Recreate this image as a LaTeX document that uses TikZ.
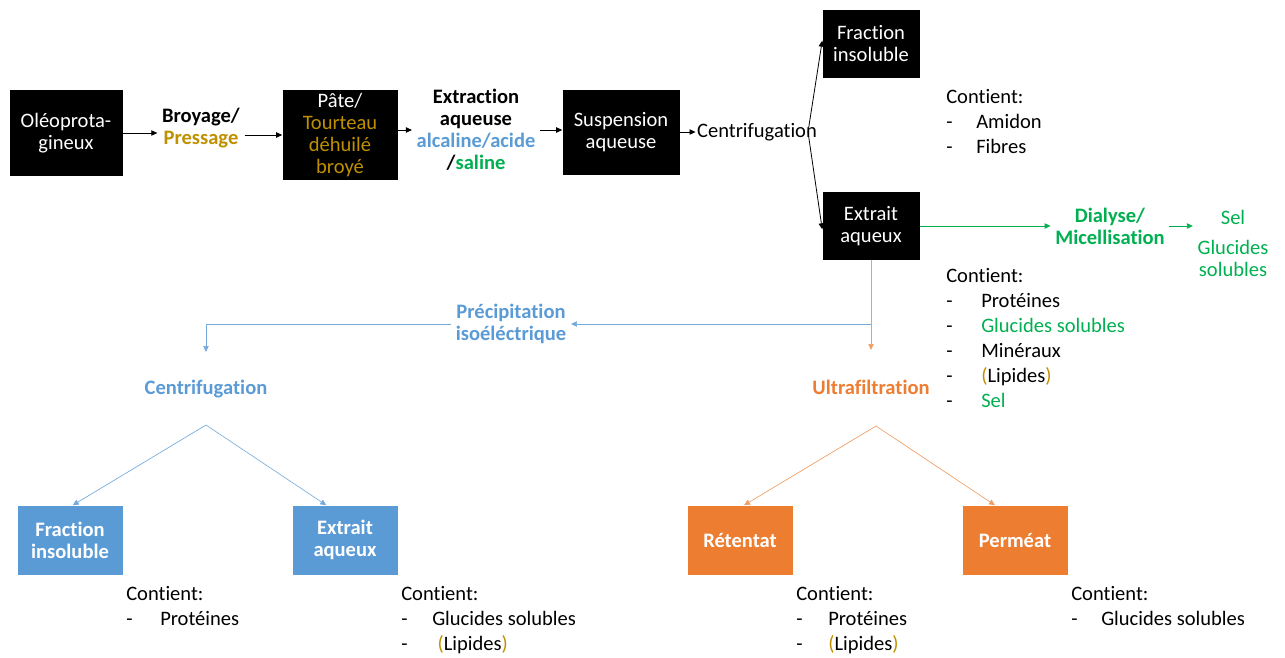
\documentclass[tikz,border=0pt]{standalone}
\usepackage{fontspec}
\setmainfont{Carlito}[Ligatures=NoCommon]
\usetikzlibrary{arrows.meta}
\definecolor{gold}{HTML}{BF9000}
\definecolor{bleu}{HTML}{5B9BD5}
\definecolor{vert}{HTML}{00B050}
\definecolor{orangeuf}{HTML}{ED7D31}
\newcommand{\tiret}[2]{\makebox[#1][l]{-}#2}
\tikzset{
  every node/.style={font=\fontsize{15.4pt}{16.5pt}\selectfont},
  blackbox/.style={fill=black,text=white,align=center,inner sep=0pt},
  bluebox/.style={fill=bleu,text=white,align=center,inner sep=0pt,
    font=\fontsize{15.4pt}{16.5pt}\selectfont\bfseries,
    minimum width=78.75pt,minimum height=51.75pt},
  orangebox/.style={bluebox,fill=orangeuf},
  etape/.style={align=center},
  liste/.style={align=left,anchor=west,inner sep=0pt,
    font=\fontsize{15.4pt}{18.75pt}\selectfont},
  fleche/.style={-{Triangle[length=4.5pt,width=4pt]},line width=0.6pt},
}
\begin{document}
\begin{tikzpicture}[x=0.75pt,y=-0.75pt]
  \useasboundingbox (0,0) rectangle (1285,657);
  % main line
  \node[blackbox,minimum width=84.75pt,minimum height=64.5pt] (oleo) at (66,133) {Oléoprota-\\gineux};
  \node[etape] (bp) at (201,128) {\textbf{Broyage/}\\\textcolor{gold}{\textbf{Pressage}}};
  \node[blackbox,minimum width=86.25pt,minimum height=67.5pt] (pate) at (340,135)
    {Pâte/\\\textcolor{gold}{Tourteau}\\\textcolor{gold}{déhuilé}\\\textcolor{gold}{broyé}};
  \node[etape] (ext) at (476,130) {\textbf{Extraction}\\\textbf{aqueuse}\\
    \textcolor{bleu}{\textbf{alcaline/acide}}\\\textbf{/}\textcolor{vert}{\textbf{saline}}};
  \node[blackbox,minimum width=87.75pt,minimum height=63.75pt] (susp) at (621,132) {Suspension\\aqueuse};
  \node[etape,inner sep=1pt] (cf) at (757,132) {Centrifugation};
  \coordinate (cfsplit) at (808,132);
  \node[blackbox,minimum width=72.75pt,minimum height=51pt] (fit) at (871,44) {Fraction\\insoluble};
  \node[blackbox,minimum width=72.75pt,minimum height=51pt] (eat) at (871,226) {Extrait\\aqueux};
  \node[liste] (fitcontient) at (946,122) {Contient:\\\tiret{22.5pt}{Amidon}\\\tiret{22.5pt}{Fibres}};
  \node[etape,text=vert] (dm) at (1110,226) {\textbf{Dialyse/}\\\textbf{Micellisation}};
  \node[etape,text=vert] (sgs) at (1233,243) {Sel\\[6pt]Glucides\\solubles};
  \node[liste] (eatcontient) at (946,338) {Contient:\\
    \tiret{26.25pt}{Protéines}\\
    \tiret{26.25pt}{\textcolor{vert}{Glucides solubles}}\\
    \tiret{26.25pt}{Minéraux}\\
    \tiret{26.25pt}{\textcolor{gold}{(}Lipides\textcolor{gold}{)}}\\
    \tiret{26.25pt}{\textcolor{vert}{Sel}}};
  % precipitation branch
  \coordinate (bluestart) at (871,324);
  \node[etape,text=bleu] (pi) at (511,324) {\textbf{Précipitation}\\\textbf{isoéléctrique}};
  \coordinate (bluedown) at (206,352);
  \node[etape,text=bleu] (cb) at (206,389) {\textbf{Centrifugation}};
  \coordinate (blueapex) at (206,425);
  \node[bluebox] (fib) at (70,540) {Fraction\\insoluble};
  \node[bluebox] (eab) at (345,540) {Extrait\\aqueux};
  \node[liste] (fibcontient) at (126,606) {Contient:\\\tiret{25.5pt}{Protéines}};
  \node[liste] (eabcontient) at (401,620) {Contient:\\\tiret{23.25pt}{Glucides solubles}\\
    \tiret{23.25pt}{\hspace{4pt}\textcolor{gold}{(}Lipides\textcolor{gold}{)}}};
  % ultrafiltration branch
  \coordinate (orangedown) at (871,350);
  \node[etape,text=orangeuf] (uf) at (871,387) {\textbf{Ultrafiltration}};
  \coordinate (orangeapex) at (876,426);
  \node[orangebox] (ret) at (740,540) {Rétentat};
  \node[orangebox] (per) at (1015,540) {Perméat};
  \node[liste] (retcontient) at (796,620) {Contient:\\\tiret{24pt}{Protéines}\\
    \tiret{24pt}{\textcolor{gold}{(}Lipides\textcolor{gold}{)}}};
  \node[liste] (percontient) at (1071,606) {Contient:\\\tiret{22.5pt}{Glucides solubles}};
  % black arrows
  \begin{scope}[fleche]
    \draw (oleo.east) -- (oleo.east -| bp.west);
    \draw (bp.east |- pate.west) -- (pate.west);
    \draw (pate.east |- ext.west) -- (ext.west);
    \draw (ext.east) -- (ext.east -| susp.west);
    \draw (susp.east) -- (cf.west);
    \draw (cfsplit) -- ([yshift=2.5pt]fit.west);
    \draw (cfsplit) -- ([yshift=-2.5pt]eat.west);
  \end{scope}
  % green arrows
  \begin{scope}[fleche,vert]
    \draw (eat.east) -- (dm.west);
    \draw (dm.east) -- (dm.east -| sgs.west);
  \end{scope}
  % blue arrows
  \begin{scope}[fleche,bleu!85,line width=0.5pt]
    \draw (bluestart) -- (pi.east);
    \draw (pi.west) -| (bluedown);
    \draw (blueapex) -- ([xshift=2pt]fib.north);
    \draw (blueapex) -- ([xshift=-14pt]eab.north);
  \end{scope}
  % orange arrows
  \begin{scope}[fleche,orangeuf!75,line width=0.5pt]
    \draw (eat.south) -- (orangedown);
    \draw (orangeapex) -- ([xshift=3pt]ret.north);
    \draw (orangeapex) -- ([xshift=-15pt]per.north);
  \end{scope}
\end{tikzpicture}
\end{document}
